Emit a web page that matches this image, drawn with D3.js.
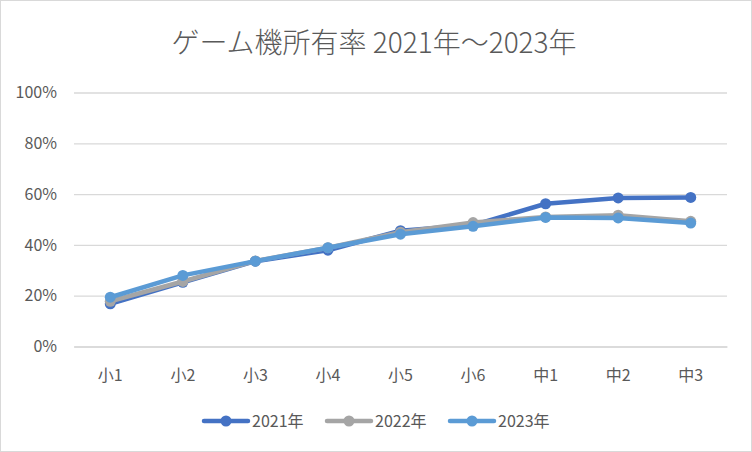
<!DOCTYPE html>
<html><head><meta charset="utf-8">
<script src="https://cdn.jsdelivr.net/npm/d3@7"></script>
<style>html,body{margin:0;padding:0;background:#fff;}svg{display:block;}</style>
</head><body>
<script>
const categories = ["小1","小2","小3","小4","小5","小6","中1","中2","中3"];
const s2021 = [16.8, 25.3, 33.6, 37.9, 45.6, 47.8, 56.2, 58.5, 58.7];
const s2022 = [17.8, 25.6, 33.7, 38.9, 45.0, 48.8, 51.0, 51.7, 49.3];
const s2023 = [19.4, 28.0, 33.6, 38.9, 44.2, 47.3, 50.8, 50.6, 48.6];
const seriesNames = ["2021年","2022年","2023年"];
const colors = ["#4472C4","#A5A5A5","#5B9BD5"];
const yTicks = [0,20,40,60,80,100];
const title = "ゲーム機所有率 2021年～2023年";

const W=752,H=452;
const font = "'Noto Sans CJK JP','Noto Sans',sans-serif";
const svg=d3.select("body").append("svg").attr("width",W).attr("height",H);
svg.append("rect").attr("x",0.5).attr("y",0.5).attr("width",W-1).attr("height",H-1).attr("fill","#fff").attr("stroke","#D9D9D9");

const x=d3.scaleBand().domain(categories).range([74,727]);
const y=d3.scaleLinear().domain([0,100]).range([346.5,92.5]);

svg.append("text").attr("x",374).attr("y",53).attr("text-anchor","middle")
  .attr("font-family",font).attr("font-size",28).attr("font-weight",300).attr("fill","#595959").text(title);

const yAxis=d3.axisLeft(y).tickValues(yTicks).tickSize(-(727-74)).tickFormat(d=>d+"%");
const gy=svg.append("g").attr("transform","translate(74,0)").call(yAxis);
gy.select(".domain").remove();
gy.selectAll(".tick line").attr("stroke","#D9D9D9").attr("stroke-width",1.3);
gy.selectAll(".tick text").attr("x",-17).attr("font-family",font).attr("font-size",16).attr("fill","#595959");

const xAxis=d3.axisBottom(x).tickSize(0);
const gx=svg.append("g").attr("transform","translate(0,346.5)").call(xAxis);
gx.select(".domain").attr("stroke","#D9D9D9").attr("stroke-width",1.3);
gx.selectAll(".tick text").attr("dy",0).attr("y",34).attr("font-family",font).attr("font-size",16).attr("fill","#595959");

const data=[s2021,s2022,s2023];
const line=d3.line().x((d,i)=>x(categories[i])+x.bandwidth()/2).y(d=>y(d));
data.forEach((s,k)=>{
  const g=svg.append("g");
  g.append("path").datum(s).attr("d",line).attr("fill","none").attr("stroke",colors[k]).attr("stroke-width",4.5).attr("stroke-linejoin","round").attr("stroke-linecap","round");
  g.selectAll("circle").data(s).join("circle")
    .attr("cx",(d,i)=>x(categories[i])+x.bandwidth()/2).attr("cy",d=>y(d)).attr("r",5.5).attr("fill",colors[k]);
});

const legX=[204,327,450];
seriesNames.forEach((n,k)=>{
  const g=svg.append("g").attr("transform",`translate(${legX[k]},421)`);
  g.append("line").attr("x1",0).attr("x2",44).attr("stroke",colors[k]).attr("stroke-width",4.5).attr("stroke-linecap","round");
  g.append("circle").attr("cx",22).attr("r",5.5).attr("fill",colors[k]);
  g.append("text").attr("x",48).attr("y",6).attr("font-family",font).attr("font-size",16).attr("fill","#595959").text(n);
});
</script>
</body></html>
